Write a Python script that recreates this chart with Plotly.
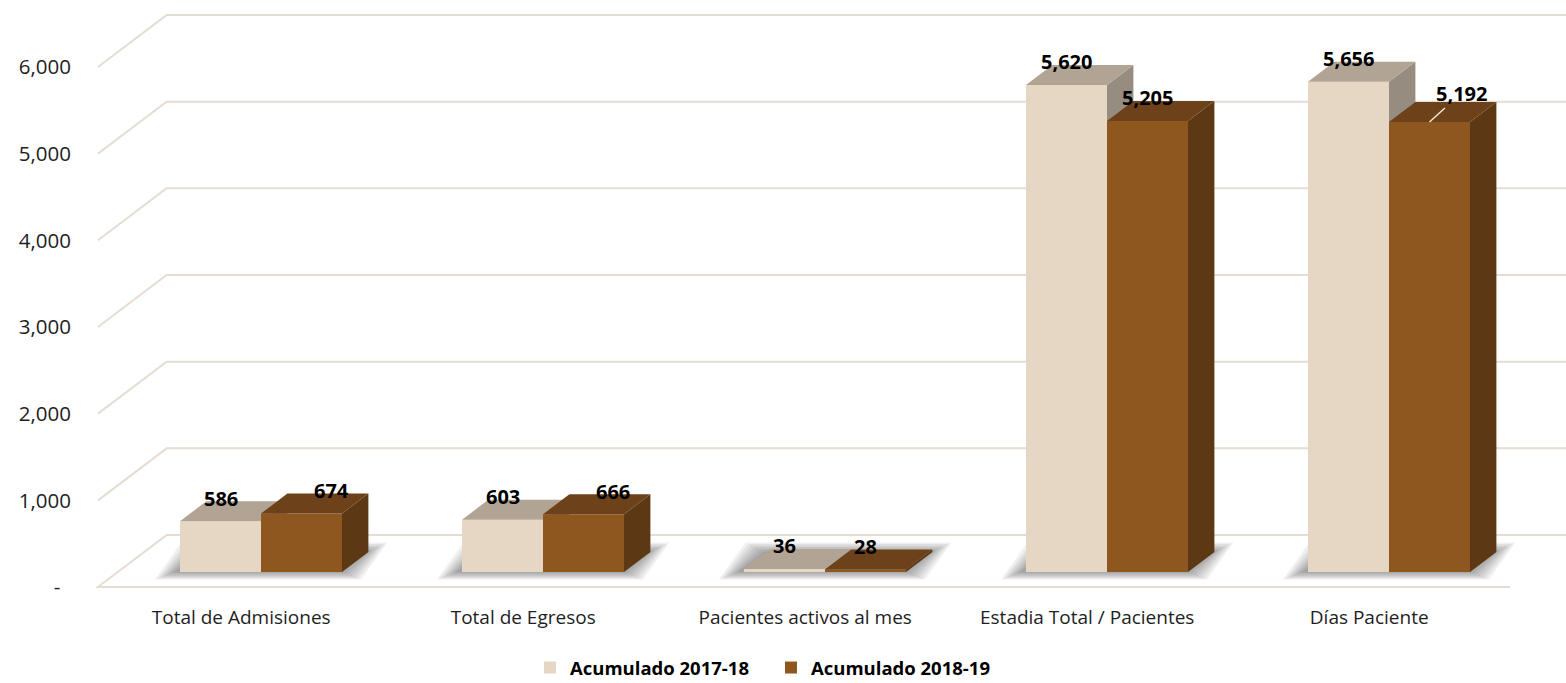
import plotly.graph_objects as go

# ---------------- data ----------------
categories = [
    "Total de Admisiones",
    "Total de Egresos",
    "Pacientes activos al mes",
    "Estadia Total / Pacientes",
    "Días Paciente",
]
series_names = ["Acumulado 2017-18", "Acumulado 2018-19"]
values_2017_18 = [586, 603, 36, 5620, 5656]
values_2018_19 = [674, 666, 28, 5205, 5192]
y_tick_values = [0, 1000, 2000, 3000, 4000, 5000, 6000]
y_tick_labels = ["-\u00a0\u00a0", "1,000", "2,000", "3,000", "4,000", "5,000", "6,000"]

# ---------------- styling / geometry ----------------
W, H = 1566, 683
ML, MR, MT, MB = 90, 0, 0, 83
PLOT_H = H - MT - MB
PX_PER_CAT = 282.0          # pixels between categories
PX_PER_UNIT = 0.08667       # pixels per value unit
CAT0_PX = 261.0             # pixel x of first bar pair centre
BASE_PX = 572.0             # pixel y of bar base
SLANT = 1.32                # horizontal shift per pixel of depth
BAR_W_PX = 81
BAR_DEPTH_PX = 20
FRONT_DEPTH_PX = -15
WALL_DEPTH_PX = 37
FLOOR_LEFT_PX = 98
FLOOR_RIGHT_PX = 1510

LIGHT_FRONT, LIGHT_TOP, LIGHT_SIDE = "#E6D7C4", "#B1A494", "#978C80"
DARK_FRONT, DARK_TOP, DARK_SIDE = "#8E571F", "#6D4119", "#5C3814"
GRID = "#E5DDD4"
FONT = "Open Sans"
TEXT = "#1E1E1E"

# label nudges in pixels (manually moved labels in the original)
label_nudge_x_light = [0, 0, 0, 0, 0]
label_nudge_x_dark = [30, 29, 0, 0, 32]
label_nudge_y_dark = [0, 0, 0, 0, 6]


def ux(px):
    return px / PX_PER_CAT


def uy(px):
    return px / PX_PER_UNIT


def proj(x, y, d):
    return x + ux(d * SLANT), y + uy(d)


x_range = [ux(ML - CAT0_PX), ux(W - MR - CAT0_PX)]
y_range = [-uy(MT + PLOT_H - BASE_PX), uy(BASE_PX - MT)]

w = ux(BAR_W_PX)
idx = list(range(len(categories)))
light_x = [i - w / 2 for i in idx]
dark_x = [i + w / 2 for i in idx]

fig = go.Figure()

# ---------------- walls / floor gridlines (shapes below traces) ----------------
shapes = []
xl = ux(FLOOR_LEFT_PX - CAT0_PX) - ux(FRONT_DEPTH_PX * SLANT)
xr = ux(FLOOR_RIGHT_PX - CAT0_PX) - ux(FRONT_DEPTH_PX * SLANT)
for v in y_tick_values:
    pts = [proj(xl, v, FRONT_DEPTH_PX), proj(xl, v, WALL_DEPTH_PX), proj(xr, v, WALL_DEPTH_PX)]
    if v == 0:
        pts = [proj(xr, v, FRONT_DEPTH_PX)] + pts
    path = "M " + " L ".join(f"{x},{y}" for x, y in pts)
    shapes.append(dict(type="path", path=path, xref="x", yref="y",
                       line=dict(color=GRID, width=2), layer="below"))

# ---------------- soft shadows under bar pairs ----------------
for i in idx:
    x0, x2 = i - w, i + w
    for e in [1, 4, 7, 10, 13, 16, 19]:
        left = x0 - ux(e + 6)
        right = x2 + ux(e)
        bottom = -uy(0.4 * e)
        back = uy(0.5 * e)
        pts = [proj(left, bottom, 0), proj(right, bottom, 0),
               proj(right, back, BAR_DEPTH_PX), proj(left, back, BAR_DEPTH_PX)]
        path = "M " + " L ".join(f"{x},{y}" for x, y in pts) + " Z"
        shapes.append(dict(type="path", path=path, xref="x", yref="y",
                           fillcolor="rgba(0,0,0,0.06)", line=dict(width=0), layer="below"))


def face_polys(centers, values):
    tx, ty, sx_, sy_ = [], [], [], []
    for c, v in zip(centers, values):
        a, b = c - w / 2, c + w / 2
        for p in [(a, v), (b, v), proj(b, v, BAR_DEPTH_PX), proj(a, v, BAR_DEPTH_PX), (a, v)]:
            tx.append(p[0]); ty.append(p[1])
        tx.append(None); ty.append(None)
        for p in [(b, 0), (b, v), proj(b, v, BAR_DEPTH_PX), proj(b, 0, BAR_DEPTH_PX), (b, 0)]:
            sx_.append(p[0]); sy_.append(p[1])
        sx_.append(None); sy_.append(None)
    return tx, ty, sx_, sy_


series = [
    (values_2017_18, light_x, LIGHT_FRONT, LIGHT_TOP, LIGHT_SIDE, "x", "y", series_names[0]),
    (values_2018_19, dark_x, DARK_FRONT, DARK_TOP, DARK_SIDE, "x2", "y2", series_names[1]),
]
for vals, xs, cf, ct, cs, xa, ya, name in series:
    fig.add_trace(go.Bar(x=xs, y=vals, width=w, name=name, xaxis=xa, yaxis=ya,
                         marker=dict(color=cf, line=dict(width=0)), showlegend=True))
    tx, ty, sxs, sys_ = face_polys(xs, vals)
    fig.add_trace(go.Scatter(x=sxs, y=sys_, fill="toself", fillcolor=cs, mode="lines",
                             line=dict(width=0), xaxis=xa, yaxis=ya, showlegend=False))
    fig.add_trace(go.Scatter(x=tx, y=ty, fill="toself", fillcolor=ct, mode="lines",
                             line=dict(width=0), xaxis=xa, yaxis=ya, showlegend=False))

# ---------------- data labels ----------------
LABEL_FONT = dict(family=FONT, size=20, color="#000000", weight="bold")
annotations = []
for j, (c, v) in enumerate(zip(light_x, values_2017_18)):
    annotations.append(dict(x=c + ux(label_nudge_x_light[j]), y=v + uy(BAR_DEPTH_PX + 3),
                            xref="x", yref="y", text=f"{v:,}", showarrow=False,
                            xanchor="center", yanchor="middle", font=LABEL_FONT))
for j, (c, v) in enumerate(zip(dark_x, values_2018_19)):
    ann = dict(xref="x", yref="y", text=f"{v:,}", xanchor="center", yanchor="middle",
               font=LABEL_FONT)
    lx = c + ux(label_nudge_x_dark[j])
    ly = v + uy(BAR_DEPTH_PX + 3 + label_nudge_y_dark[j])
    if label_nudge_y_dark[j]:
        ann.update(x=c, y=v, showarrow=True, arrowhead=0, arrowwidth=1.5,
                   arrowcolor="#EFE6DA", axref="pixel", ayref="pixel",
                   ax=label_nudge_x_dark[j], ay=-(BAR_DEPTH_PX + 3 + label_nudge_y_dark[j]))
    else:
        ann.update(x=lx, y=ly, showarrow=False)
    annotations.append(ann)

fig.update_layout(
    width=W, height=H,
    margin=dict(l=ML, r=MR, t=MT, b=MB, pad=0, autoexpand=False),
    paper_bgcolor="white", plot_bgcolor="white",
    hovermode=False,
    font=dict(family=FONT, color=TEXT),
    shapes=shapes,
    annotations=annotations,
    xaxis=dict(range=x_range, showgrid=False, zeroline=False, showline=False,
               tickvals=[i + ux(FRONT_DEPTH_PX * SLANT) for i in idx], ticktext=categories,
               tickfont=dict(family=FONT, size=19, color=TEXT), ticks="",
               ticklabelstandoff=4, automargin=False),
    yaxis=dict(range=y_range, showgrid=False, zeroline=False, showline=False,
               tickvals=[v + uy(FRONT_DEPTH_PX) for v in y_tick_values], ticktext=y_tick_labels,
               tickfont=dict(family=FONT, size=20.5, color=TEXT), ticks="",
               ticklabelstandoff=18, automargin=False),
    xaxis2=dict(range=x_range, overlaying="x", visible=False),
    yaxis2=dict(range=y_range, overlaying="y", visible=False),
    barmode="overlay",
    legend=dict(orientation="h", x=(771 - ML) / (W - ML - MR), xanchor="center",
                y=-(668 - (MT + PLOT_H)) / PLOT_H, yanchor="middle",
                font=dict(family=FONT, size=18.5, color="#000000", weight="bold"),
                entrywidth=196, entrywidthmode="pixels"),
)

fig.write_html("out.html", config={"displayModeBar": False},
               post_script="document.body.style.margin='0px';")
